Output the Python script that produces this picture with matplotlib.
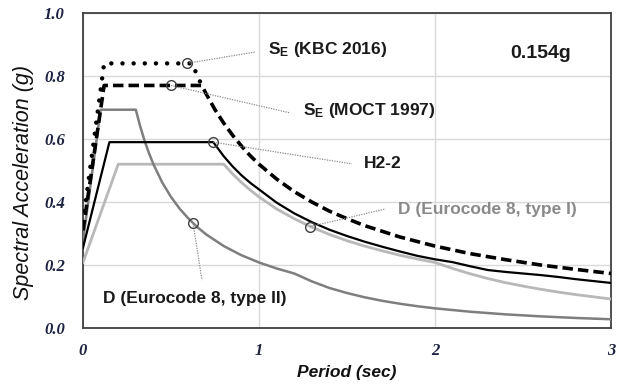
import matplotlib
matplotlib.use('agg')
import matplotlib.pyplot as plt

plt.rcParams['font.family'] = ['Liberation Sans', 'DejaVu Sans']
plt.rcParams['mathtext.fontset'] = 'custom'
plt.rcParams['mathtext.rm'] = 'Liberation Sans:bold'
plt.rcParams['mathtext.it'] = 'Liberation Sans:bold'
plt.rcParams['mathtext.bf'] = 'Liberation Sans:bold'

# spectra (period in sec, Sa in g)
kbcT = [0.0, 0.12, 0.62, 0.65, 0.675]
kbcSa = [0.336, 0.84, 0.84, 0.80, 0.77]

moctT = [0.0, 0.12, 0.675, 0.7, 0.75, 0.8, 0.85, 0.9, 0.95, 1.0, 1.1, 1.2, 1.3, 1.4, 1.5,
         1.6, 1.8, 2.0, 2.2, 2.4, 2.6, 2.8, 3.0]
moctSa = [0.31, 0.77, 0.77, 0.743, 0.693, 0.650, 0.612, 0.578, 0.547, 0.520, 0.473, 0.433,
          0.400, 0.371, 0.347, 0.325, 0.289, 0.260, 0.236, 0.217, 0.200, 0.186, 0.173]

h22T = [0.0, 0.15, 0.74, 0.8, 0.85, 0.9, 0.95, 1.0, 1.1, 1.2, 1.3, 1.4, 1.5, 1.6, 1.7, 1.8,
        1.9, 2.0, 2.1, 2.2, 2.3, 2.4, 2.5, 2.6, 2.7, 2.8, 2.9, 3.0]
h22Sa = [0.255, 0.59, 0.59, 0.545, 0.513, 0.485, 0.461, 0.440, 0.398, 0.364, 0.336, 0.312,
         0.292, 0.274, 0.258, 0.243, 0.229, 0.218, 0.209, 0.196, 0.184, 0.178, 0.173, 0.168,
         0.162, 0.155, 0.149, 0.143]

ec1T = [0.0, 0.2, 0.8, 0.85, 0.9, 0.95, 1.0, 1.1, 1.2, 1.3, 1.4, 1.5, 1.6, 1.7, 1.8, 1.9,
        2.0, 2.1, 2.2, 2.3, 2.4, 2.5, 2.6, 2.7, 2.8, 2.9, 3.0]
ec1Sa = [0.208, 0.52, 0.52, 0.489, 0.462, 0.438, 0.416, 0.378, 0.347, 0.320, 0.297, 0.277,
         0.260, 0.245, 0.231, 0.219, 0.208, 0.189, 0.172, 0.157, 0.144, 0.133, 0.123, 0.114,
         0.106, 0.099, 0.092]

ec2T = [0.0, 0.1, 0.3, 0.325, 0.35, 0.375, 0.4, 0.45, 0.5, 0.55, 0.6, 0.65, 0.7, 0.8, 0.9,
        1.0, 1.1, 1.2, 1.3, 1.4, 1.5, 1.6, 1.7, 1.8, 1.9, 2.0, 2.2, 2.4, 2.6, 2.8, 3.0]
ec2Sa = [0.277, 0.693, 0.693, 0.640, 0.594, 0.555, 0.520, 0.462, 0.416, 0.378, 0.347, 0.320,
         0.297, 0.260, 0.231, 0.208, 0.189, 0.173, 0.148, 0.127, 0.111, 0.0975, 0.0863,
         0.0770, 0.0691, 0.0624, 0.0516, 0.0433, 0.0369, 0.0318, 0.0277]

# annotation: marker point, leader end, label
labels = [r'$\mathbf{S_E}$ (KBC 2016)', r'$\mathbf{S_E}$ (MOCT 1997)', 'H2-2',
          'D (Eurocode 8, type I)', 'D (Eurocode 8, type II)']
markT = [0.59, 0.50, 0.74, 1.29, 0.625]
markSa = [0.84, 0.77, 0.59, 0.322, 0.333]
leadT = [0.977, 1.176, 1.528, 1.72, 0.676]
leadSa = [0.876, 0.683, 0.521, 0.378, 0.152]
textT = [1.05, 1.25, 1.597, 1.79, 0.114]
textSa = [0.883, 0.689, 0.521, 0.375, 0.095]
textColor = ['#1a1a1a', '#1a1a1a', '#1a1a1a', '#8a8a8a', '#1a1a1a']

fig = plt.figure(figsize=(6.26, 3.86), dpi=100)
ax = fig.add_axes([0.1326, 0.1503, 0.8434, 0.816])

ax.plot(ec1T, ec1Sa, color='#b8b8b8', lw=2.0, zorder=3)
ax.plot(ec2T, ec2Sa, color='#7e7e7e', lw=1.8, zorder=3)
ax.plot(h22T, h22Sa, color='black', lw=1.6, zorder=4)
ax.plot(moctT, moctSa, color='black', lw=2.6, linestyle=(0, (2.9, 1.4)), zorder=5)
ax.plot(kbcT, kbcSa, color='black', lw=3.2, linestyle=(0, (0.01, 2.5)),
        dash_capstyle='round', zorder=5)

for i in range(len(labels)):
    ax.plot([markT[i], leadT[i]], [markSa[i], leadSa[i]], color='#8c8c8c', lw=0.9,
            linestyle=(0, (1, 1)), zorder=6)
    ax.plot(markT[i], markSa[i], 'o', ms=7, mfc='none', mec='#404040', mew=1.0, zorder=7)
    ax.text(textT[i], textSa[i], labels[i], color=textColor[i], fontsize=12.5,
            fontweight='bold', ha='left', va='center', zorder=8)

ax.text(2.43, 0.873, '0.154g', fontsize=14, fontweight='bold', color='#1a1a1a',
        ha='left', va='center')

ax.set_xlim(0, 3)
ax.set_ylim(0, 1.0)
ax.set_xticks([0, 1, 2, 3])
ax.set_yticks([0.0, 0.2, 0.4, 0.6, 0.8, 1.0])
ax.set_yticklabels(['0.0', '0.2', '0.4', '0.6', '0.8', '1.0'])
ax.tick_params(length=0, labelcolor='#1c2240')
ax.tick_params(axis='y', pad=13)
ax.tick_params(axis='x', pad=11)
for lab in ax.get_xticklabels() + ax.get_yticklabels():
    lab.set_family('Liberation Serif')
    lab.set_fontsize(12)
    lab.set_fontweight('bold')
    lab.set_fontstyle('italic')

ax.grid(color='#d9d9d9', lw=1.0, zorder=0)
ax.set_axisbelow(True)
for sp in ax.spines.values():
    sp.set_color('#404040')
    sp.set_linewidth(1.3)

fig.text(347 / 626, 1 - 372 / 386, 'Period (sec)', fontsize=12.5, fontweight='bold',
         fontstyle='italic', color='#111111', ha='center', va='center')
fig.text(24 / 626, 1 - 183 / 386, 'Spectral Acceleration (g)', fontsize=15.5,
         fontstyle='italic', color='#111111', ha='center', va='center', rotation=90)

fig.savefig('out.png', dpi=100)
